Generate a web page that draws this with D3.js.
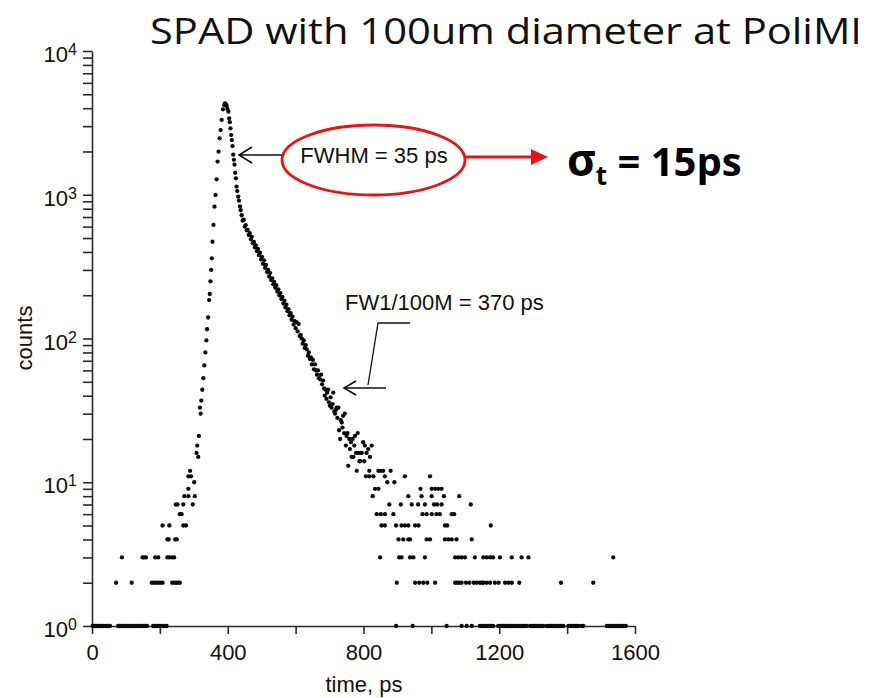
<!DOCTYPE html>
<html>
<head>
<meta charset="utf-8">
<script src="https://cdn.jsdelivr.net/npm/d3@7"></script>
<style>
  body { margin: 0; background: #fff; }
  svg text { font-family: "Liberation Sans", Arial, Helvetica, sans-serif; }
</style>
</head>
<body>
<svg id="chart" width="871" height="698"></svg>
<script>
// main peak + decay (time in ps, counts)
var curveTimes = [308,310,313,315,318,320,322,325,328,331,334,337,339,342,345,347,349,351,353,355,358,361,364,367,370,373,376,379,382,386,390,392,
  395,397,399,402,404,406,408,410,412,414,416,418,420,422,424,426,428,431,433,436,438,441,444,447,450,453,456,459,462,465,468,471,474,477,480,
  483,486,489,492,495,498,501,504,507,510,513,516,519,522,525,528,531,534,537,540,543,546,549,552,555,558,561,564,567,570,573,576,579,582,585,
  588,591,594,597,600,603,606,609,612,615,618,621,624,627,630,633,636,639,642,645,648,651,654,657,660,663,666,669,672,675,678,681,684,686,688,
  691,693,696,698,701,703,706,709,711,714,716,719,721,723,726,728,731,733,736,738,740,743,745,748,750,753,755,758,760,763,765,768,770,773,775,
  778,783,785,788,790,793,795,799,802,804,809,814,819,824];
var curveCounts = [16,18,15,21,33,30,37,44,53,65,80,97,116,140,185,204,250,300,361,471,617,826,996,1280,1700,1995,2470,2820,3313,3930,4200,4325,
  4250,4140,3950,3785,3400,3200,2900,2600,2400,2180,1900,1750,1620,1420,1300,1140,1060,970,910,830,780,720,660,670,600,615,565,570,525,540,490,510,460,470,430,445,
  405,420,380,395,355,370,330,350,310,325,290,300,270,285,255,262,238,248,225,235,212,220,200,207,188,195,175,183,165,172,155,160,145,150,
  135,142,125,132,118,130,112,126,104,106,100,92,97,86,90,84,76,80,72,74,66,71,61,66,60,56,60,53,52,56,48,51,45,40,44,
  38,42,44,36,34,39,33,35,42,31,30,32,33,28,33,23,20,27,26,24,29,22,30,18,21,22,13,20,17,19,15,20,15,18,21,
  16,22,16,14,14,16,16,19,14,18,16,17,15,18];

// sparse low-count channels, grouped by their count level
var timesAt1 = [2,6,10,14,18,22,26,30,34,39,44,49,53,77,81,86,91,96,100,104,108,113,118,123,128,133,138,143,148,153,158,162,
  180,184,189,194,199,204,209,214,220,896,945,1045,1089,1104,1119,1143,1148,1153,1158,1163,1168,1173,1178,1182,1197,1202,1207,1212,1217,1222,
  1227,1232,1237,1242,1247,1252,1257,1262,1267,1272,1276,1281,1291,1296,1301,1306,1311,1316,1320,1325,1330,1340,1345,1350,1355,1360,1365,
  1370,1375,1379,1384,1389,1404,1409,1414,1419,1424,1429,1434,1443,1448,1517,1522,1527,1532,1537,1542,1547,1552,1557,1562,1567,1573];
var timesAt2 = [71,117,176,182,189,195,201,208,236,242,248,254,259,898,952,964,976,988,1011,1070,1076,1082,1089,1102,1112,1125,1133,
  1143,1149,1153,1163,1173,1187,1198,1217,1227,1237,1259,1382,1477];
var timesAt3 = [88,149,153,159,186,195,222,228,236,242,849,905,912,937,947,981,1070,1079,1089,1099,1128,1153,1163,1173,1182,1202,1237,1266,1286,1536];
var timesAt4 = [222,226,245,250,903,917,932,937,986,996,1040,1050,1060,1074,1119];
var timesAt5 = [208,228,269,277,853,863,896,912,922,932,952,962,1040,1047,1175];
var timesAt6 = [259,264,839,851,863,888,974,986,1001,1015,1025,1060,1067];
var timesAt7 = [247,252,269,297,876,910,942,961,981,1008,1017,1030,1116];
var timesAt8 = [272,284,303,827,932,971,1001,1037,1082];
var timesAt9 = [284,834,844,968,1001,1011,1020,1030];
var timesAt10 = [301,870,891];
var timesAt11 = [284,292,807,817,829,863,922,996];
var timesAt12 = [289,780,817,844,851,858,880];
var levelTimes = [timesAt1,timesAt2,timesAt3,timesAt4,timesAt5,timesAt6,timesAt7,timesAt8,timesAt9,timesAt10,timesAt11,timesAt12];

var xTicks = [0,200,400,600,800,1000,1200,1400,1600];
var xLabels = [0,400,800,1200,1600];
var yDecades = [1,10,100,1000,10000];
var yExponents = ["0","1","2","3","4"];

var titleText = "SPAD with 100um diameter at PoliMI";
var fwhmText = "FWHM = 35 ps";
var fw100Text = "FW1/100M = 370 ps";

// build the point list
var points = [];
for (var i = 0; i < curveTimes.length; i++) points.push([curveTimes[i], curveCounts[i]]);
levelTimes.forEach(function (arr, k) {
  arr.forEach(function (t) { points.push([t, k + 1]); });
});

var svg = d3.select("#chart");
svg.append("rect").attr("width", 871).attr("height", 698).attr("fill", "#fff");

var x = d3.scaleLinear().domain([0, 1600]).range([92, 635]);
var y = d3.scaleLog().domain([1, 10000]).range([626, 51]);

// y ticks: every 1..9 x 10^k
var yTickValues = [];
for (var k = 0; k < 4; k++) for (var m = 1; m < 10; m++) yTickValues.push(m * Math.pow(10, k));
yTickValues.push(10000);

var axisColor = "#2a2a2a";

var gy = svg.append("g").attr("transform", "translate(92,0)")
  .call(d3.axisLeft(y).tickValues(yTickValues).tickSize(9).tickSizeOuter(0).tickFormat(""));
var gx = svg.append("g").attr("transform", "translate(0,626)")
  .call(d3.axisBottom(x).tickValues(xTicks).tickSize(8).tickSizeOuter(0).tickPadding(10)
    .tickFormat(function (d) { return xLabels.indexOf(d) >= 0 ? d : ""; }));
[gx, gy].forEach(function (g) {
  g.select(".domain").attr("stroke", axisColor).attr("stroke-width", 1.6);
  g.selectAll(".tick line").attr("stroke", axisColor).attr("stroke-width", 1.6);
});
gx.selectAll(".tick text").attr("font-size", 22).attr("fill", "#111")
  .style("font-family", "'Liberation Sans', Arial, sans-serif");

// decade labels 10^n
yDecades.forEach(function (d, i) {
  var t = svg.append("text").attr("x", 77).attr("y", y(d) + 11)
    .attr("text-anchor", "end").attr("fill", "#111");
  t.append("tspan").attr("font-size", 22).text("10");
  t.append("tspan").attr("font-size", 16).attr("dy", -7).text(yExponents[i]);
});

// axis titles
svg.append("text").attr("x", 364).attr("y", 692).attr("text-anchor", "middle")
  .attr("font-size", 22).attr("fill", "#111").text("time, ps");
svg.append("text").attr("transform", "translate(32,338) rotate(-90)").attr("text-anchor", "middle")
  .attr("font-size", 22).attr("fill", "#111").text("counts");

// data dots
svg.append("g").selectAll("circle")
  .data(points)
  .join("circle")
  .attr("cx", function (d) { return x(d[0]); })
  .attr("cy", function (d) { return y(d[1]); })
  .attr("r", 2.15)
  .attr("fill", "#0a0a0a");

// title
svg.append("text").attr("x", 150).attr("y", 44)
  .attr("font-size", 36).attr("fill", "#111")
  .style("font-family", "'Open Sans', 'Noto Sans', sans-serif")
  .attr("textLength", 712).attr("lengthAdjust", "spacingAndGlyphs")
  .text(titleText);

// FWHM annotation
svg.append("ellipse").attr("cx", 373.5).attr("cy", 160).attr("rx", 91.5).attr("ry", 35)
  .attr("fill", "none").attr("stroke", "#f01010").attr("stroke-width", 2.8);
svg.append("text").attr("x", 374).attr("y", 163).attr("text-anchor", "middle")
  .attr("font-size", 22).attr("fill", "#111").text(fwhmText);
svg.append("path").attr("d", "M282,155H239M252,147L239,155L252,163")
  .attr("fill", "none").attr("stroke", "#111").attr("stroke-width", 1.6);
svg.append("path").attr("d", "M465,157H533")
  .attr("stroke", "#f01010").attr("stroke-width", 2.8);
svg.append("path").attr("d", "M531,149L548,157L531,165Z").attr("fill", "#f01010");

// sigma_t
var sig = svg.append("text").attr("x", 567).attr("y", 176)
  .attr("font-size", 40).attr("font-weight", "bold").attr("fill", "#000")
  .style("font-family", "'Open Sans', 'Noto Sans', sans-serif");
sig.append("tspan").attr("font-size", 44).text("\u03c3");
sig.append("tspan").attr("font-size", 26).attr("dy", 9).text("t");
sig.append("tspan").attr("dy", -9).text(" = 15ps");

// FW1/100M annotation
svg.append("text").attr("x", 345).attr("y", 310)
  .attr("font-size", 22).attr("fill", "#111").text(fw100Text);
svg.append("path").attr("d", "M410,323H378L368,385")
  .attr("fill", "none").attr("stroke", "#111").attr("stroke-width", 1.3);
svg.append("path").attr("d", "M386,388H344M356,381L344,388L356,395")
  .attr("fill", "none").attr("stroke", "#111").attr("stroke-width", 1.6);
</script>
</body>
</html>
